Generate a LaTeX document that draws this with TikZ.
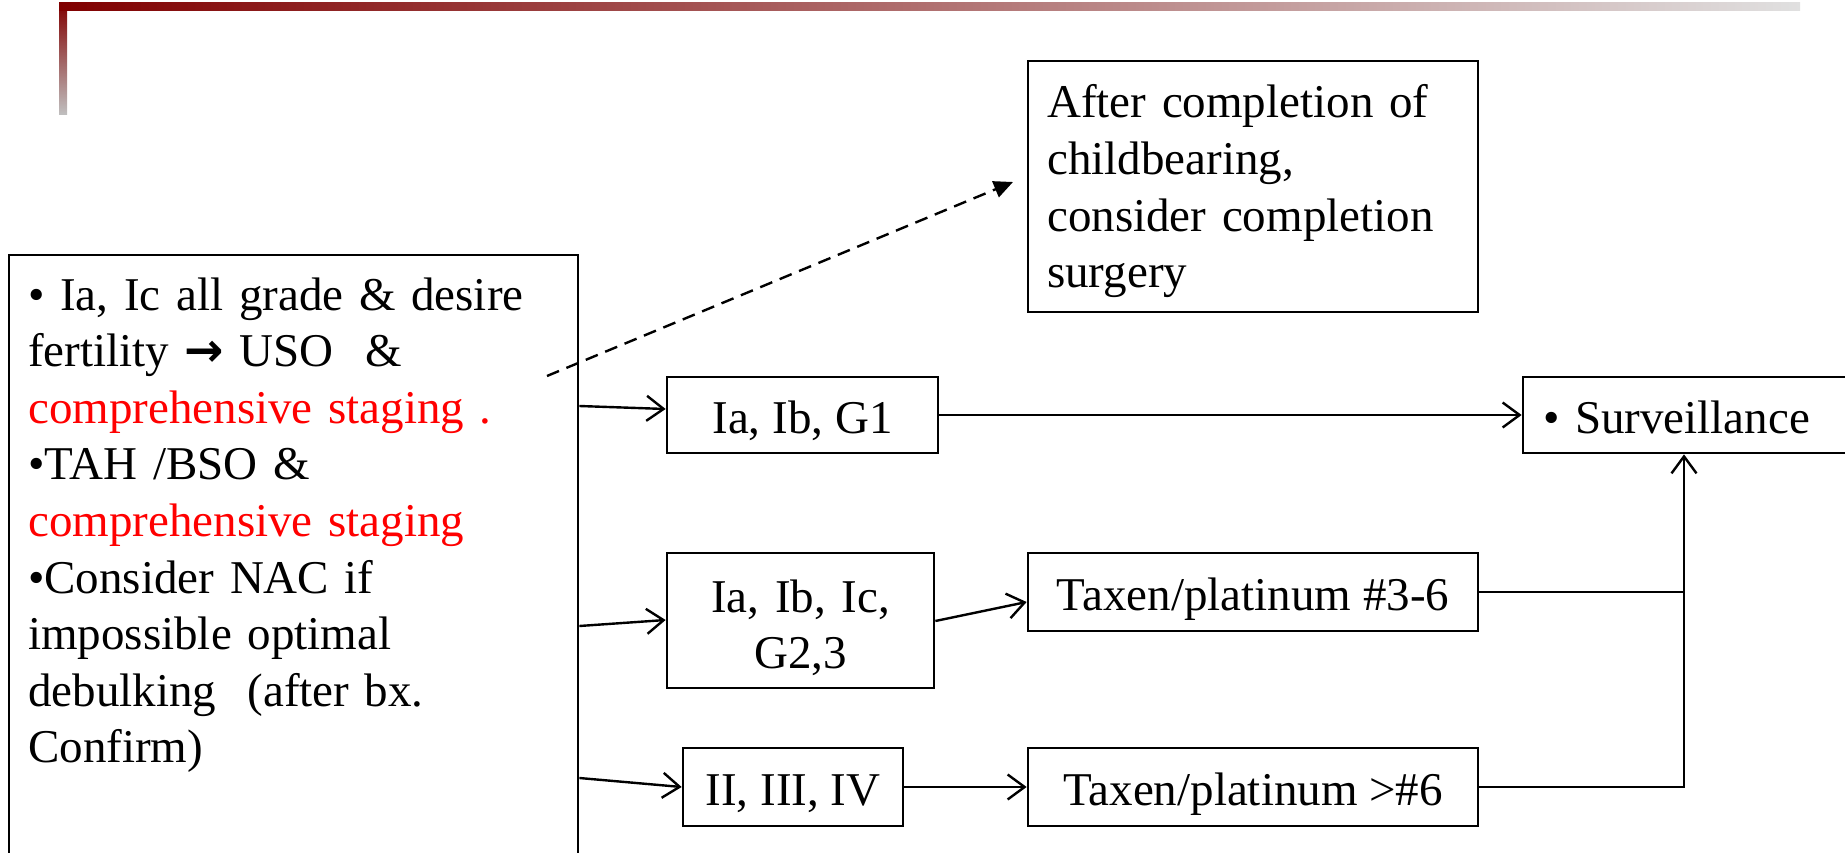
\documentclass[tikz,border=0pt]{standalone}
\usepackage{fontspec}
\setmainfont{Liberation Serif}
\newfontfamily\arrowfont{DejaVu Sans}
\usetikzlibrary{arrows.meta}
\definecolor{barred}{RGB}{128,0,0}
\definecolor{bargrey}{RGB}{192,192,192}
\definecolor{barmid}{RGB}{172,140,140}
\definecolor{barlight}{RGB}{224,224,224}
\definecolor{pptred}{RGB}{255,0,0}
\begin{document}
\begin{tikzpicture}[x=1pt,y=-1pt,
  boxbase/.style={draw=black, line width=2.7pt, inner sep=0pt, font=\fontsize{47}{56.6}\selectfont},
  box/.style={boxbase, text height=43pt, text depth=7pt},
  txt/.style={inner sep=0pt, font=\fontsize{47}{56.6}\selectfont},
  conn/.style={line width=2.4pt, -{Straight Barb[length=17pt,width=25pt,line width=2.4pt]}},
  plainline/.style={line width=2.4pt},
  dashline/.style={line width=2.4pt, dash pattern=on 13pt off 8pt, -{Triangle[length=19pt,width=17pt]}}
]
\useasboundingbox (0,0) rectangle (1845,853);
\clip (0,0) rectangle (1845,853);
% decorative bars
\shade[top color=barred, bottom color=bargrey] (59,3) rectangle (67,115);
\shade[left color=barred, middle color=barmid, right color=barlight] (59,3) rectangle (1800,11);

% boxes
\node[boxbase, minimum width=569pt, minimum height=645pt] (big) at (293.5,577.5) {};
\node[txt, anchor=base west, text width=540pt, align=left] (bigtext) at (28,310)
 {• Ia, Ic all grade \& desire\\
  fertility {\arrowfont\bfseries →} USO \ \&\\
  \textcolor{pptred}{comprehensive staging .}\\
  •TAH /BSO \&\\
  \textcolor{pptred}{comprehensive staging}\\
  •Consider NAC if\\
  impossible optimal\\
  debulking \ (after bx.\\
  Confirm)};

\node[boxbase, minimum width=450pt, minimum height=251pt] (after) at (1253,186.5) {};
\node[txt, anchor=base west, text width=420pt, align=left] (aftertext) at (1047,118)
 {After completion of\\childbearing,\\consider completion\\surgery};

\node[box, minimum width=271pt, minimum height=76pt] (g1) at (802.5,415) {Ia, Ib, G1};
\node[box, minimum width=327pt, minimum height=76pt, inner xsep=20pt, text width=287pt, align=left] (surv) at (1686.5,415) {• Surveillance};

\node[boxbase, minimum width=267pt, minimum height=135pt] (g23) at (800.5,620.5) {};
\node[txt, anchor=base, text width=260pt, align=center] (g23text) at (800.5,612) {Ia, Ib, Ic,\\G2,3};

\node[box, minimum width=220pt, minimum height=78pt] (g4) at (793,787) {II, III, IV};
\node[box, minimum width=450pt, minimum height=78pt] (t36) at (1253,592) {Taxen/platinum \#3-6};
\node[box, minimum width=450pt, minimum height=78pt] (t6) at (1253,787) {Taxen/platinum >\#6};

% connectors
\coordinate (dstart) at (547,376);
\coordinate (dend) at (1013,182);
\draw[dashline] (dstart) -- (dend);

\draw[conn] ([yshift=171.5pt]big.east) -- ([yshift=6pt]g1.west);
\draw[conn] ([yshift=-48.5pt]big.east) -- ([yshift=0.5pt]g23.west);
\draw[conn] ([yshift=-200.5pt]big.east) -- (g4.west);

\draw[conn] (g1.east) -- (surv.west);
\draw[conn] ([yshift=-0.5pt]g23.east) -- ([yshift=-10pt]t36.west);
\draw[conn] (g4.east) -- (t6.west);

\coordinate (bus) at (1684,787);
\draw[plainline] (t36.east) -- (t36.east -| bus);
\draw[conn] (t6.east) -- (bus) -- (bus |- surv.south);
\end{tikzpicture}
\end{document}
